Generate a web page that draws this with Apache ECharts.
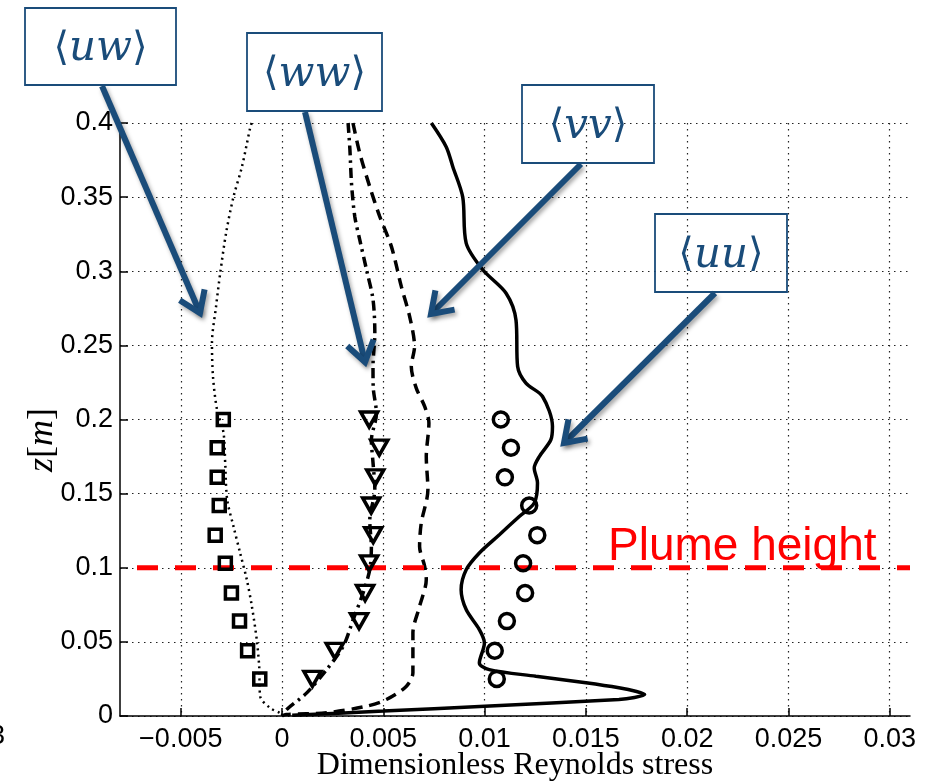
<!DOCTYPE html>
<html><head><meta charset="utf-8">
<script src="https://cdn.jsdelivr.net/npm/echarts@6/dist/echarts.min.js"></script>
<style>html,body{margin:0;padding:0;background:#fff}#c{width:930px;height:783px}</style>
</head><body><div id="c"></div>
<script>
// ---- axis ticks ----
const xTickValues = [-0.005, 0, 0.005, 0.01, 0.015, 0.02, 0.025, 0.03];
const xMin = -0.008, xMax = 0.031;
const yMin = 0, yMax = 0.4, yStep = 0.05;

// ---- measured points (markers) ----
const measZ = [0.2, 0.181, 0.161, 0.142, 0.122, 0.103, 0.083, 0.064, 0.044, 0.025];
const uwMeasX = [-0.0029, -0.0032, -0.0032, -0.0031, -0.0033, -0.0028, -0.0025, -0.0021, -0.0017, -0.0011];
const wwMeasX = [0.0043, 0.0048, 0.0046, 0.0044, 0.0045, 0.0043, 0.0041, 0.0038, 0.0026, 0.0015];
const uuMeasX = [0.0108, 0.0113, 0.0110, 0.0122, 0.0126, 0.0119, 0.0120, 0.0111, 0.0105, 0.0106];

// ---- simulated profiles (curves) ----
const uwCurveZ = [0.4, 0.397, 0.3705, 0.350, 0.326, 0.299, 0.276, 0.2515, 0.229, 0.2066, 0.191, 0.168, 0.146, 0.128, 0.110, 0.092, 0.074, 0.0516, 0.0336, 0.0133, 0.0055, 0.002, 0];
const uwCurveX = [-0.0015, -0.00157, -0.00198, -0.0024, -0.00276, -0.00305, -0.00326, -0.00346, -0.00341, -0.00321, -0.00289, -0.0028, -0.00271, -0.0024, -0.00207, -0.00174, -0.00149, -0.00125, -0.00113, -0.00108, -0.0006, -0.0001, 0];

const wwCurveZ = [0.4, 0.382, 0.359, 0.337, 0.321, 0.301, 0.281, 0.258, 0.236, 0.222, 0.204, 0.186, 0.171, 0.153, 0.132, 0.114, 0.0987, 0.083, 0.065, 0.047, 0.0313, 0.0156, 0.0044, 0];
const wwCurveX = [0.00326, 0.00335, 0.00343, 0.00359, 0.00384, 0.00417, 0.00449, 0.00458, 0.00449, 0.0045, 0.00466, 0.00441, 0.00449, 0.00458, 0.00433, 0.00441, 0.00433, 0.0040, 0.00351, 0.00302, 0.0022, 0.00122, 0.00023, 0];

const vvCurveZ = [0.4, 0.3795, 0.357, 0.337, 0.3166, 0.2896, 0.2694, 0.2492, 0.2357, 0.221, 0.2088, 0.1976, 0.175, 0.1526, 0.130, 0.1144, 0.101, 0.092, 0.074, 0.056, 0.0291, 0.0201, 0.0111, 0.0066, 0.0022, 0.001, 0];
const vvCurveX = [0.0035, 0.00384, 0.00433, 0.00482, 0.0054, 0.00589, 0.0063, 0.00654, 0.00638, 0.00663, 0.00704, 0.00725, 0.00712, 0.0072, 0.00687, 0.00679, 0.00704, 0.00712, 0.00679, 0.00646, 0.00646, 0.00614, 0.00515, 0.00417, 0.0022, 0.0002, 0];

const uuCurveZ = [0.4, 0.384, 0.3705, 0.350, 0.319, 0.301, 0.2852, 0.267, 0.2357, 0.2245, 0.2155, 0.1953, 0.1863, 0.175, 0.1673, 0.1572, 0.1437, 0.1346, 0.1223, 0.110, 0.0987, 0.0852, 0.0718, 0.0583, 0.0493, 0.0358, 0.0313, 0.0268, 0.0224, 0.019, 0.0165, 0.0145, 0.0125, 0.0111, 0.0066, 0.0033, 0.0005];
const uuCurveX = [0.00737, 0.0081, 0.00843, 0.00892, 0.00909, 0.00991, 0.01106, 0.01155, 0.01163, 0.01204, 0.01286, 0.01335, 0.01327, 0.0127, 0.01245, 0.01261, 0.01245, 0.01171, 0.01073, 0.00974, 0.00909, 0.00884, 0.00909, 0.00974, 0.00999, 0.00974, 0.01023, 0.01253, 0.015, 0.01663, 0.0175, 0.0179, 0.0174, 0.01663, 0.01, 0.005, 0.0005];

const plumeHeight = 0.1;

const zip = (xs, zs) => xs.map((x, i) => [x, zs[i]]);
const fmt = v => { const s = String(parseFloat(Number(v).toFixed(4))); return s.replace('-', '\u2212'); };

const BLUE = '#1a4c7a';
const tickFont = { fontFamily: 'Liberation Sans, Arial, sans-serif', fontSize: 27, color: '#000' };

const chart = echarts.init(document.getElementById('c'), null, { renderer: 'canvas' });

function arrowEls(x1, y1, x2, y2) {
  const ang = Math.atan2(y2 - y1, x2 - x1);
  const L = 24, a = 0.6;
  const w1 = [x2 - L * Math.cos(ang - a), y2 - L * Math.sin(ang - a)];
  const w2 = [x2 - L * Math.cos(ang + a), y2 - L * Math.sin(ang + a)];
  const shadow = { shadowBlur: 4, shadowOffsetX: 2, shadowOffsetY: 3, shadowColor: 'rgba(0,0,0,0.35)' };
  return [
    { type: 'line', shape: { x1, y1, x2, y2 }, style: Object.assign({ stroke: BLUE, lineWidth: 6, lineCap: 'butt' }, shadow), z: 100 },
    { type: 'polyline', shape: { points: [w1, [x2, y2], w2] }, style: Object.assign({ stroke: BLUE, lineWidth: 6, fill: null, lineJoin: 'miter', lineCap: 'butt' }, shadow), z: 100 }
  ];
}
function boxEls(x, y, w, h, label) {
  return [
    { type: 'rect', shape: { x, y, width: w, height: h }, style: { fill: null, stroke: BLUE, lineWidth: 1.8 }, z: 101 },
    { type: 'text', x: x + w / 2, y: y + h / 2 + 3, z: 102,
      style: { text: '{b|\u27E8}{i|' + label + '}{b|\u27E9}', align: 'center', verticalAlign: 'middle',
        rich: { b: { fontFamily: 'DejaVu Serif, serif', fontSize: 40, fill: BLUE, color: BLUE },
                i: { fontFamily: 'DejaVu Serif, serif', fontStyle: 'italic', fontSize: 42, fill: BLUE, color: BLUE } } } }
  ];
}

const graphics = [].concat(
  arrowEls(102, 86, 200, 313),
  arrowEls(305, 112, 365, 362),
  arrowEls(581, 164, 431, 314),
  arrowEls(715, 293, 564, 443),
  boxEls(25, 8, 151, 77, 'uw'),
  boxEls(247, 33, 135, 78, 'ww'),
  boxEls(522, 85, 132, 78, 'vv'),
  boxEls(655, 214, 132, 78, 'uu'),
  [
    { type: 'text', x: 608, y: 547, z: 90, style: { text: 'Plume height', font: '46px "Liberation Sans", Arial, sans-serif', fill: '#ff0000', verticalAlign: 'middle' } },
    { type: 'text', x: 43, y: 440, rotation: Math.PI / 2, z: 90,
      style: { text: '{i|z}{r|[}{i|m}{r|]}', align: 'center', verticalAlign: 'middle',
        rich: { i: { fontFamily: 'Liberation Serif, serif', fontStyle: 'italic', fontSize: 36, fill: '#000' },
                r: { fontFamily: 'Liberation Serif, serif', fontSize: 36, fill: '#000' } } } },
    { type: 'text', x: 515, y: 766, z: 90, style: { text: 'Dimensionless Reynolds stress', font: '32px "Liberation Serif", serif', fill: '#000', align: 'center', verticalAlign: 'middle' } },
    { type: 'text', x: -10, y: 737, z: 90, style: { text: '3', font: '27px "Liberation Sans", Arial, sans-serif', fill: '#000', verticalAlign: 'middle' } }
  ]
);

const option = {
  animation: false,
  backgroundColor: '#fff',
  grid: { left: 120, right: 20, top: 123, bottom: 67, containLabel: false },
  xAxis: {
    type: 'value', min: xMin, max: xMax,
    axisLine: { show: true, onZero: false, lineStyle: { color: '#000', width: 1.5 } },
    axisTick: { show: true, inside: true, length: 8, customValues: xTickValues, lineStyle: { color: '#000', width: 1.5 } },
    axisLabel: Object.assign({ customValues: xTickValues, margin: 10, formatter: fmt }, tickFont),
    splitLine: { show: true, lineStyle: { type: [1.5, 4.5], color: '#222', width: 1.2 } }
  },
  yAxis: {
    type: 'value', min: yMin, max: yMax, interval: yStep,
    axisLine: { show: true, onZero: false, lineStyle: { color: '#000', width: 1.5 } },
    axisTick: { show: true, inside: true, length: 8, lineStyle: { color: '#000', width: 1.5 } },
    axisLabel: Object.assign({ margin: 7, formatter: fmt }, tickFont),
    splitLine: { show: true, lineStyle: { type: [1.5, 4.5], color: '#222', width: 1.2 } }
  },
  series: [
    { name: 'uw curve', type: 'line', data: zip(uwCurveX, uwCurveZ), showSymbol: false, smooth: 0.3,
      lineStyle: { color: '#000', width: 2.5, type: [2, 4] }, z: 3 },
    { name: 'ww curve', type: 'line', data: zip(wwCurveX, wwCurveZ), showSymbol: false, smooth: 0.3,
      lineStyle: { color: '#000', width: 3.5, type: [10, 5, 2.5, 5] }, z: 3 },
    { name: 'vv curve', type: 'line', data: zip(vvCurveX, vvCurveZ), showSymbol: false, smooth: 0.3,
      lineStyle: { color: '#000', width: 3.5, type: [11, 7] }, z: 3 },
    { name: 'uu curve', type: 'line', data: zip(uuCurveX, uuCurveZ), showSymbol: false, smooth: 0.3,
      lineStyle: { color: '#000', width: 3.5, type: 'solid' }, z: 3 },
    { name: 'plume', type: 'line', data: [[xMin, plumeHeight], [xMax, plumeHeight]], showSymbol: false,
      lineStyle: { color: '#ff0000', width: 5, type: [21, 17], dashOffset: 21 }, z: 4 },
    { name: 'uw meas', type: 'scatter', data: zip(uwMeasX, measZ), symbol: 'rect', symbolSize: 12,
      itemStyle: { color: 'rgba(0,0,0,0)', borderColor: '#000', borderWidth: 3.5, opacity: 1 }, z: 5 },
    { name: 'ww meas', type: 'scatter', data: zip(wwMeasX, measZ), symbol: 'triangle', symbolRotate: 180, symbolSize: [17, 15],
      itemStyle: { color: 'rgba(0,0,0,0)', borderColor: '#000', borderWidth: 3.5, opacity: 1 }, z: 5 },
    { name: 'uu meas', type: 'scatter', data: zip(uuMeasX, measZ), symbol: 'circle', symbolSize: 15,
      itemStyle: { color: 'rgba(0,0,0,0)', borderColor: '#000', borderWidth: 3.5, opacity: 1 }, z: 5 }
  ],
  graphic: graphics
};
chart.setOption(option);
</script></body></html>
